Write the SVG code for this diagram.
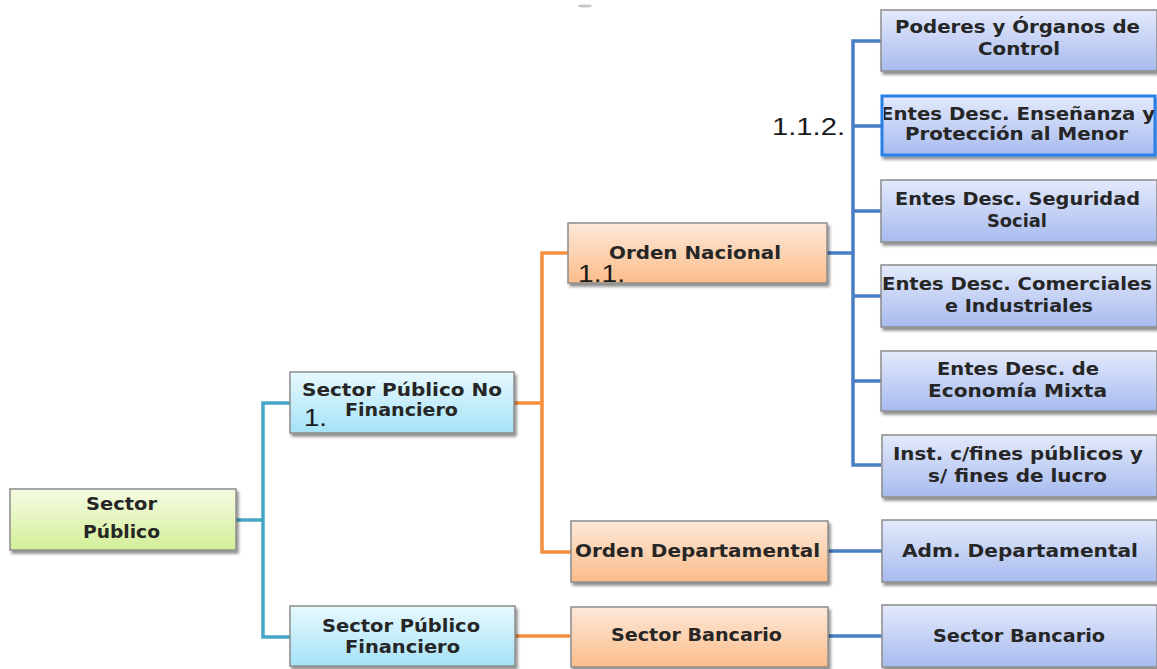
<svg xmlns="http://www.w3.org/2000/svg" width="1157" height="669" viewBox="0 0 1157 669">
  <defs>
    <linearGradient id="gGreen" x1="0" y1="0" x2="0" y2="1">
      <stop offset="0" stop-color="#f5fce3"/>
      <stop offset="1" stop-color="#d3ee98"/>
    </linearGradient>
    <linearGradient id="gCyan" x1="0" y1="0" x2="0" y2="1">
      <stop offset="0" stop-color="#e8f9fe"/>
      <stop offset="1" stop-color="#a4e2f7"/>
    </linearGradient>
    <linearGradient id="gOrange" x1="0" y1="0" x2="0" y2="1">
      <stop offset="0" stop-color="#fde8d9"/>
      <stop offset="1" stop-color="#fbbd8a"/>
    </linearGradient>
    <linearGradient id="gBlue" x1="0" y1="0" x2="0" y2="1">
      <stop offset="0" stop-color="#e4eafb"/>
      <stop offset="1" stop-color="#a7bbef"/>
    </linearGradient>
    <filter id="shadow" x="-10%" y="-20%" width="125%" height="150%">
      <feGaussianBlur in="SourceAlpha" stdDeviation="1.6"/>
      <feOffset dx="1.5" dy="2.5" result="b"/>
      <feComponentTransfer><feFuncA type="linear" slope="0.45"/></feComponentTransfer>
      <feMerge><feMergeNode/><feMergeNode in="SourceGraphic"/></feMerge>
    </filter>
  </defs>
  <style>
    .box { stroke: #8c8c8c; stroke-width: 1.5; filter: url(#shadow); }
    .lbl { font-family: "DejaVu Sans", Verdana, sans-serif; font-weight: bold; font-size: 17px; fill: #262626; }
    .num { font-family: "Liberation Sans", Arial, sans-serif; font-size: 23px; fill: #1a1a1a; }
    .teal { stroke: #45a6c6; stroke-width: 3.5; fill: none; }
    .orange { stroke: #f58f3c; stroke-width: 3.5; fill: none; }
    .blue { stroke: #4a7ec2; stroke-width: 3.5; fill: none; }
  </style>

  <rect width="1157" height="669" fill="#ffffff"/>
  <ellipse cx="585" cy="6" rx="7" ry="1.6" fill="#c8c8c8"/>

  <!-- connectors -->
  <g id="connectors">
    <path class="teal" d="M236 520 H263 M291 403 H263 V637 H291"/>
    <path class="orange" d="M514 403 H542 M569 253 H542 V552 H572 M515 636 H570"/>
    <path class="blue" d="M827 253 H853 M881 41 H853 V465 H881 M853 126 H881 M853 211 H881 M853 296 H881 M853 381 H881 M828 551 H882 M828 636 H882"/>
  </g>

  <g id="sector-publico">
    <rect class="box" x="10" y="489" width="226" height="61" fill="url(#gGreen)"/>
    <text class="lbl" x="86" y="510" textLength="71" lengthAdjust="spacingAndGlyphs">Sector</text>
    <text class="lbl" x="83" y="538" textLength="77" lengthAdjust="spacingAndGlyphs">Público</text>
  </g>

  <g id="spnf">
    <rect class="box" x="290" y="372" width="224" height="61" fill="url(#gCyan)"/>
    <text class="lbl" x="302" y="396" textLength="200" lengthAdjust="spacingAndGlyphs">Sector Público  No</text>
    <text class="lbl" x="345" y="416" textLength="113" lengthAdjust="spacingAndGlyphs">Financiero</text>
    <text class="num" x="304" y="426" textLength="23" lengthAdjust="spacingAndGlyphs">1.</text>
  </g>

  <g id="spf">
    <rect class="box" x="290" y="606" width="225" height="60" fill="url(#gCyan)"/>
    <text class="lbl" x="322" y="632" textLength="158" lengthAdjust="spacingAndGlyphs">Sector Público</text>
    <text class="lbl" x="345" y="653" textLength="115" lengthAdjust="spacingAndGlyphs">Financiero</text>
  </g>

  <g id="orden-nacional">
    <rect class="box" x="568" y="223" width="259" height="60" fill="url(#gOrange)"/>
    <text class="lbl" x="609" y="259" textLength="172" lengthAdjust="spacingAndGlyphs">Orden Nacional</text>
    <text class="num" x="578" y="282" textLength="47" lengthAdjust="spacingAndGlyphs">1.1.</text>
  </g>

  <g id="orden-departamental">
    <rect class="box" x="571" y="521" width="257" height="61" fill="url(#gOrange)"/>
    <text class="lbl" x="575" y="557" textLength="245" lengthAdjust="spacingAndGlyphs">Orden Departamental</text>
  </g>

  <g id="sector-bancario-orden">
    <rect class="box" x="571" y="607" width="257" height="60" fill="url(#gOrange)"/>
    <text class="lbl" x="611" y="641" textLength="171" lengthAdjust="spacingAndGlyphs">Sector Bancario</text>
  </g>

  <g id="label-112">
    <text class="num" x="772" y="135" textLength="73" lengthAdjust="spacingAndGlyphs">1.1.2.</text>
  </g>

  <g id="poderes">
    <rect class="box" x="881" y="10" width="276" height="61" fill="url(#gBlue)"/>
    <text class="lbl" x="895" y="33" textLength="245" lengthAdjust="spacingAndGlyphs">Poderes y Órganos  de</text>
    <text class="lbl" x="978" y="55" textLength="82" lengthAdjust="spacingAndGlyphs">Control</text>
  </g>

  <g id="ensenanza">
    <rect class="box" x="882" y="96" width="273" height="59" fill="url(#gBlue)" style="stroke:#2680e8;stroke-width:3"/>
    <svg x="884" y="96" width="270" height="59" overflow="hidden">
      <text class="lbl" x="-4" y="24" textLength="275" lengthAdjust="spacingAndGlyphs">Entes Desc. Enseñanza  y</text>
    </svg>
    <text class="lbl" x="905" y="140" textLength="223" lengthAdjust="spacingAndGlyphs">Protección al Menor</text>
  </g>

  <g id="seguridad">
    <rect class="box" x="881" y="180" width="276" height="62" fill="url(#gBlue)"/>
    <text class="lbl" x="895" y="205" textLength="245" lengthAdjust="spacingAndGlyphs">Entes Desc. Seguridad</text>
    <text class="lbl" x="987" y="227" textLength="60" lengthAdjust="spacingAndGlyphs">Social</text>
  </g>

  <g id="comerciales">
    <rect class="box" x="881" y="265" width="276" height="62" fill="url(#gBlue)"/>
    <text class="lbl" x="882" y="290" textLength="270" lengthAdjust="spacingAndGlyphs">Entes Desc. Comerciales</text>
    <text class="lbl" x="945" y="312" textLength="148" lengthAdjust="spacingAndGlyphs">e Industriales</text>
  </g>

  <g id="economia-mixta">
    <rect class="box" x="881" y="351" width="276" height="60" fill="url(#gBlue)"/>
    <text class="lbl" x="937" y="375" textLength="162" lengthAdjust="spacingAndGlyphs">Entes Desc. de</text>
    <text class="lbl" x="928" y="397" textLength="179" lengthAdjust="spacingAndGlyphs">Economía  Mixta</text>
  </g>

  <g id="fines-publicos">
    <rect class="box" x="882" y="435" width="275" height="62" fill="url(#gBlue)"/>
    <text class="lbl" x="893" y="460" textLength="250" lengthAdjust="spacingAndGlyphs">Inst. c/fines públicos  y</text>
    <text class="lbl" x="928" y="482" textLength="179" lengthAdjust="spacingAndGlyphs">s/ fines de lucro</text>
  </g>

  <g id="adm-departamental">
    <rect class="box" x="882" y="520" width="275" height="62" fill="url(#gBlue)"/>
    <text class="lbl" x="902" y="557" textLength="236" lengthAdjust="spacingAndGlyphs">Adm. Departamental</text>
  </g>

  <g id="sector-bancario">
    <rect class="box" x="882" y="605" width="275" height="62" fill="url(#gBlue)"/>
    <text class="lbl" x="933" y="642" textLength="172" lengthAdjust="spacingAndGlyphs">Sector Bancario</text>
  </g>
</svg>
